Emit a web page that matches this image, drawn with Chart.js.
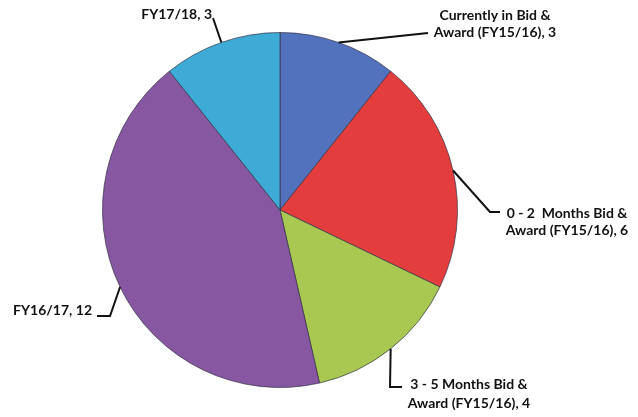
<!DOCTYPE html>
<html>
<head>
<meta charset="utf-8">
<script src="https://cdn.jsdelivr.net/npm/chart.js@4.4.1/dist/chart.umd.min.js"></script>
<style>
  html, body { margin: 0; padding: 0; background: #fff; }
  #wrap { width: 638px; height: 417px; position: relative; }
</style>
</head>
<body>
<div id="wrap"><canvas id="chart"></canvas></div>
<script>
// Data
const categories = [
  ['Currently in Bid &', 'Award (FY15/16)'],
  ['0 - 2  Months Bid &', 'Award (FY15/16)'],
  ['3 - 5 Months Bid &', 'Award (FY15/16)'],
  ['FY16/17'],
  ['FY17/18']
];
const projectCounts = [3, 6, 4, 12, 3];
const sliceColors = ['#5372bd', '#e43d3d', '#a8c852', '#8857a1', '#3eabd6'];

// Where each label sits and how its leader bends
const labelLayout = [
  { bends: [[428, 33]], x: 495, y: 15, gap: 17, align: 'center' },
  { bends: [[490, 212], [500, 212]], x: 567, y: 213, gap: 17, align: 'center' },
  { bends: [[390, 387], [402, 387]], x: 469, y: 384, gap: 19, align: 'center' },
  { bends: [[110, 316], [97, 316]], x: 92, y: 310, gap: 17, align: 'right' },
  { bends: [[213, 18]], x: 212, y: 14, gap: 17, align: 'right' }
];

const calloutLabels = {
  id: 'calloutLabels',
  afterDatasetsDraw(chart) {
    const c = chart.ctx;
    const arcs = chart.getDatasetMeta(0).data;
    c.save();
    arcs.forEach((arc, i) => {
      const p = arc.getProps(['x', 'y', 'startAngle', 'endAngle', 'outerRadius'], true);
      const mid = (p.startAngle + p.endAngle) / 2;
      const lay = labelLayout[i];

      // leader line
      c.strokeStyle = '#111';
      c.lineWidth = 2;
      c.beginPath();
      c.moveTo(p.x + Math.cos(mid) * p.outerRadius, p.y + Math.sin(mid) * p.outerRadius);
      lay.bends.forEach(b => c.lineTo(b[0], b[1]));
      c.stroke();

      // label text
      const lines = categories[i].slice();
      lines[lines.length - 1] += ', ' + projectCounts[i];
      c.fillStyle = '#111';
      c.font = 'bold 14px Lato';
      c.textAlign = lay.align;
      c.textBaseline = 'middle';
      lines.forEach((t, k) => c.fillText(t, lay.x, lay.y + k * lay.gap));
    });
    c.restore();
  }
};

const ctx = document.getElementById('chart').getContext('2d');
const chart = new Chart(ctx, {
  type: 'pie',
  data: {
    labels: categories.map(l => l.join(' ')),
    datasets: [{
      data: projectCounts,
      backgroundColor: sliceColors,
      borderColor: 'rgba(50,50,70,0.7)',
      borderWidth: 1
    }]
  },
  options: {
    responsive: true,
    maintainAspectRatio: false,
    animation: false,
    layout: { padding: { left: 102, right: 180, top: 32, bottom: 29 } },
    plugins: {
      legend: { display: false },
      tooltip: { enabled: false }
    }
  },
  plugins: [calloutLabels]
});
</script>
</body>
</html>
